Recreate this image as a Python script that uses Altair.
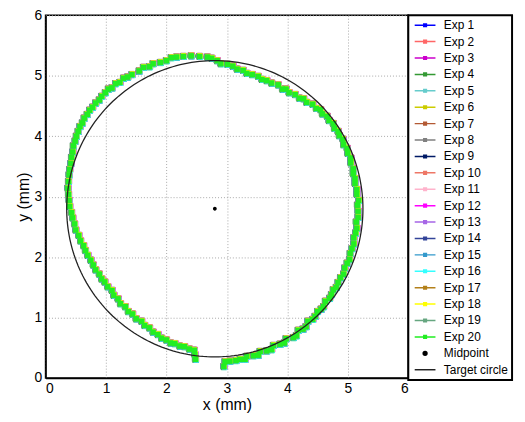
import altair as alt
import pandas as pd
import numpy as np

# Shared trajectory (mm), counter-clockwise from the bottom gap
path_x = [2.95, 2.97, 3.05, 3.15, 3.22, 3.30, 3.33, 3.44, 3.52, 3.55, 3.66, 3.74, 3.77, 3.88, 3.95,
          3.98, 4.10, 4.15, 4.18, 4.26, 4.31, 4.34, 4.42, 4.46, 4.50, 4.56, 4.60, 4.63, 4.70, 4.73,
          4.76, 4.81, 4.84, 4.88, 4.93, 4.95, 4.99, 5.03, 5.04, 5.07, 5.10, 5.10, 5.13, 5.15, 5.14,
          5.17, 5.17, 5.16, 5.18, 5.15, 5.15, 5.12, 5.12, 5.09, 5.09, 5.05, 5.05, 5.00, 4.99, 4.93,
          4.92, 4.86, 4.84, 4.78, 4.76, 4.69, 4.66, 4.58, 4.55, 4.48, 4.42, 4.32, 4.27, 4.20, 4.13,
          4.03, 3.98, 3.92, 3.85, 3.74, 3.66, 3.58, 3.52, 3.42, 3.33, 3.27, 3.17, 3.10, 3.01, 2.90,
          2.84, 2.75, 2.68, 2.55, 2.41, 2.28, 2.17, 2.08, 2.00, 1.90, 1.78, 1.72, 1.62, 1.55, 1.43,
          1.36, 1.29, 1.23, 1.16, 1.10, 1.04, 0.99, 0.93, 0.89, 0.83, 0.78, 0.73, 0.69, 0.64, 0.61,
          0.57, 0.54, 0.51, 0.49, 0.46, 0.45, 0.43, 0.42, 0.40, 0.39, 0.38, 0.37, 0.38, 0.39, 0.40,
          0.43, 0.45, 0.48, 0.50, 0.55, 0.58, 0.63, 0.66, 0.70, 0.75, 0.79, 0.83, 0.89, 0.93, 0.98,
          1.03, 1.10, 1.13, 1.20, 1.24, 1.32, 1.37, 1.44, 1.50, 1.59, 1.64, 1.72, 1.78, 1.86, 1.92,
          2.00, 2.07, 2.14, 2.22, 2.30, 2.38, 2.46, 2.47, 2.48]
path_y = [0.19, 0.27, 0.28, 0.29, 0.31, 0.31, 0.36, 0.37, 0.38, 0.44, 0.45, 0.47, 0.54, 0.56, 0.58,
          0.65, 0.67, 0.70, 0.79, 0.81, 0.85, 0.94, 0.97, 1.02, 1.10, 1.14, 1.18, 1.27, 1.32, 1.38,
          1.46, 1.50, 1.58, 1.66, 1.72, 1.82, 1.90, 1.96, 2.06, 2.14, 2.22, 2.32, 2.40, 2.48, 2.58,
          2.66, 2.76, 2.86, 2.94, 3.04, 3.12, 3.22, 3.30, 3.38, 3.46, 3.56, 3.64, 3.72, 3.80, 3.86,
          3.95, 4.01, 4.08, 4.13, 4.21, 4.26, 4.33, 4.37, 4.44, 4.46, 4.53, 4.56, 4.62, 4.63, 4.69,
          4.72, 4.78, 4.78, 4.85, 4.88, 4.92, 4.94, 4.99, 5.02, 5.04, 5.09, 5.11, 5.16, 5.19, 5.20,
          5.25, 5.29, 5.31, 5.32, 5.33, 5.32, 5.31, 5.30, 5.25, 5.22, 5.20, 5.15, 5.14, 5.08, 5.02,
          4.98, 4.96, 4.89, 4.87, 4.80, 4.78, 4.72, 4.66, 4.60, 4.55, 4.48, 4.43, 4.36, 4.30, 4.22,
          4.16, 4.08, 4.00, 3.92, 3.84, 3.74, 3.65, 3.55, 3.45, 3.36, 3.25, 3.14, 3.04, 2.94, 2.84,
          2.74, 2.65, 2.55, 2.45, 2.36, 2.27, 2.19, 2.11, 2.03, 1.95, 1.87, 1.79, 1.72, 1.64, 1.59,
          1.51, 1.45, 1.37, 1.31, 1.23, 1.18, 1.10, 1.06, 0.98, 0.94, 0.87, 0.83, 0.76, 0.72, 0.66,
          0.63, 0.58, 0.57, 0.53, 0.52, 0.48, 0.46, 0.39, 0.31]

exp_names = [f"Exp {i}" for i in range(1, 21)]
# small per-experiment shifts (mm) of the shared trajectory
exp_dx = [0.01, -0.01, 0.015, -0.005, 0.005, -0.015, 0.01, -0.01, 0.005, -0.005,
          0.015, 0.01, -0.01, 0.005, -0.015, 0.01, -0.005, 0.005, -0.01, 0.00]
exp_dy = [-0.01, 0.01, 0.005, -0.015, 0.015, 0.005, -0.01, 0.01, -0.005, 0.015,
          -0.005, 0.01, 0.005, -0.01, 0.01, -0.015, 0.005, 0.01, -0.005, 0.00]
exp_colors = ["#0000ff", "#ff6666", "#cc00cc", "#339933", "#66cccc", "#cccc00", "#b35933",
              "#808080", "#001a66", "#ee7766", "#ffb3cc", "#ff00ff", "#a666e6", "#334499",
              "#3399cc", "#33ffff", "#b3801a", "#ffff00", "#66a680", "#22ee22"]

mid_x = [2.8]
mid_y = [2.8]
circle_center = (2.8, 2.8)
circle_radius = 2.45

ticks = [0, 1, 2, 3, 4, 5, 6]

rows = []
for k, name in enumerate(exp_names):
    for i, (px, py) in enumerate(zip(path_x, path_y)):
        rows.append({"x": px + exp_dx[k], "y": py + exp_dy[k], "series": name,
                     "key": f"e{k+1:02d}", "idx": i})
traj = pd.DataFrame(rows)

theta = np.linspace(0, 2 * np.pi, 241)
circ = pd.DataFrame({"x": circle_center[0] + circle_radius * np.cos(theta),
                     "y": circle_center[1] + circle_radius * np.sin(theta),
                     "series": "Target circle", "idx": np.arange(len(theta))})
mid = pd.DataFrame({"x": mid_x, "y": mid_y, "series": ["Midpoint"]})

domain = exp_names + ["Midpoint", "Target circle"]
crange = exp_colors + ["#000000", "#222222"]
exp_sym = "M-3,0H3M-0.38,-0.38H0.38V0.38H-0.38Z"
dot_sym = "M-0.55,0A0.55,0.55,0,1,1,0.55,0A0.55,0.55,0,1,1,-0.55,0Z"
line_sym = "M-3,0H3"
shapes = [exp_sym] * 20 + [dot_sym, line_sym]

FONT = "Liberation Sans"

xenc = alt.X("x:Q", scale=alt.Scale(domain=[0, 6], nice=False, zero=False),
             axis=alt.Axis(values=ticks, title="x (mm)", labelPadding=4, titlePadding=1))
yenc = alt.Y("y:Q", scale=alt.Scale(domain=[0, 6], nice=False, zero=False),
             axis=alt.Axis(values=ticks, title="y (mm)", labelPadding=4, titlePadding=2))

legend = alt.Legend(title=None, orient="none", legendX=367, legendY=0,
                    labelExpr="datum.label + '\u2002\u00a0'")
color = alt.Color("series:N", scale=alt.Scale(domain=domain, range=crange), legend=legend)
shape = alt.Shape("series:N", scale=alt.Scale(domain=domain, range=shapes), legend=legend)

lines = alt.Chart(traj).mark_line(strokeWidth=2).encode(
    x=xenc, y=yenc, color=color, detail="key:N", order="idx:Q")
points = alt.Chart(traj).mark_square(size=30, opacity=1).encode(
    x=xenc, y=yenc, color=color)
circle = alt.Chart(circ).mark_line(strokeWidth=1.3).encode(
    x=xenc, y=yenc, color=color, order="idx:Q")
midp = alt.Chart(mid).mark_point(filled=True, size=49, opacity=1).encode(
    x=xenc, y=yenc, color=color, shape=shape)

chart = alt.layer(lines, points, circle, midp).properties(
    width=367, height=367,
    autosize=alt.AutoSizeParams(type="none"),
    padding={"left": 38, "top": 5, "right": 110, "bottom": 34},
).configure_view(
    stroke="black", strokeWidth=1.5
).configure_axis(
    domainColor="black", domainWidth=1.5, ticks=False,
    grid=True, gridColor="#a8a8a8", gridDash=[1, 2], gridWidth=1,
    labelFont=FONT, labelFontSize=14, labelColor="black",
    titleFont=FONT, titleFontSize=16, titleFontWeight="normal", titleColor="black",
).configure_legend(
    padding=4, rowPadding=4.6, symbolSize=49, symbolStrokeWidth=1.5, symbolOffset=7,
    labelFont=FONT, labelFontSize=12, labelColor="black", labelOffset=13,
    strokeColor="black", strokeWidth=2, fillColor="white",
)

chart.save("out.html", embed_options={"renderer": "svg", "actions": False})
